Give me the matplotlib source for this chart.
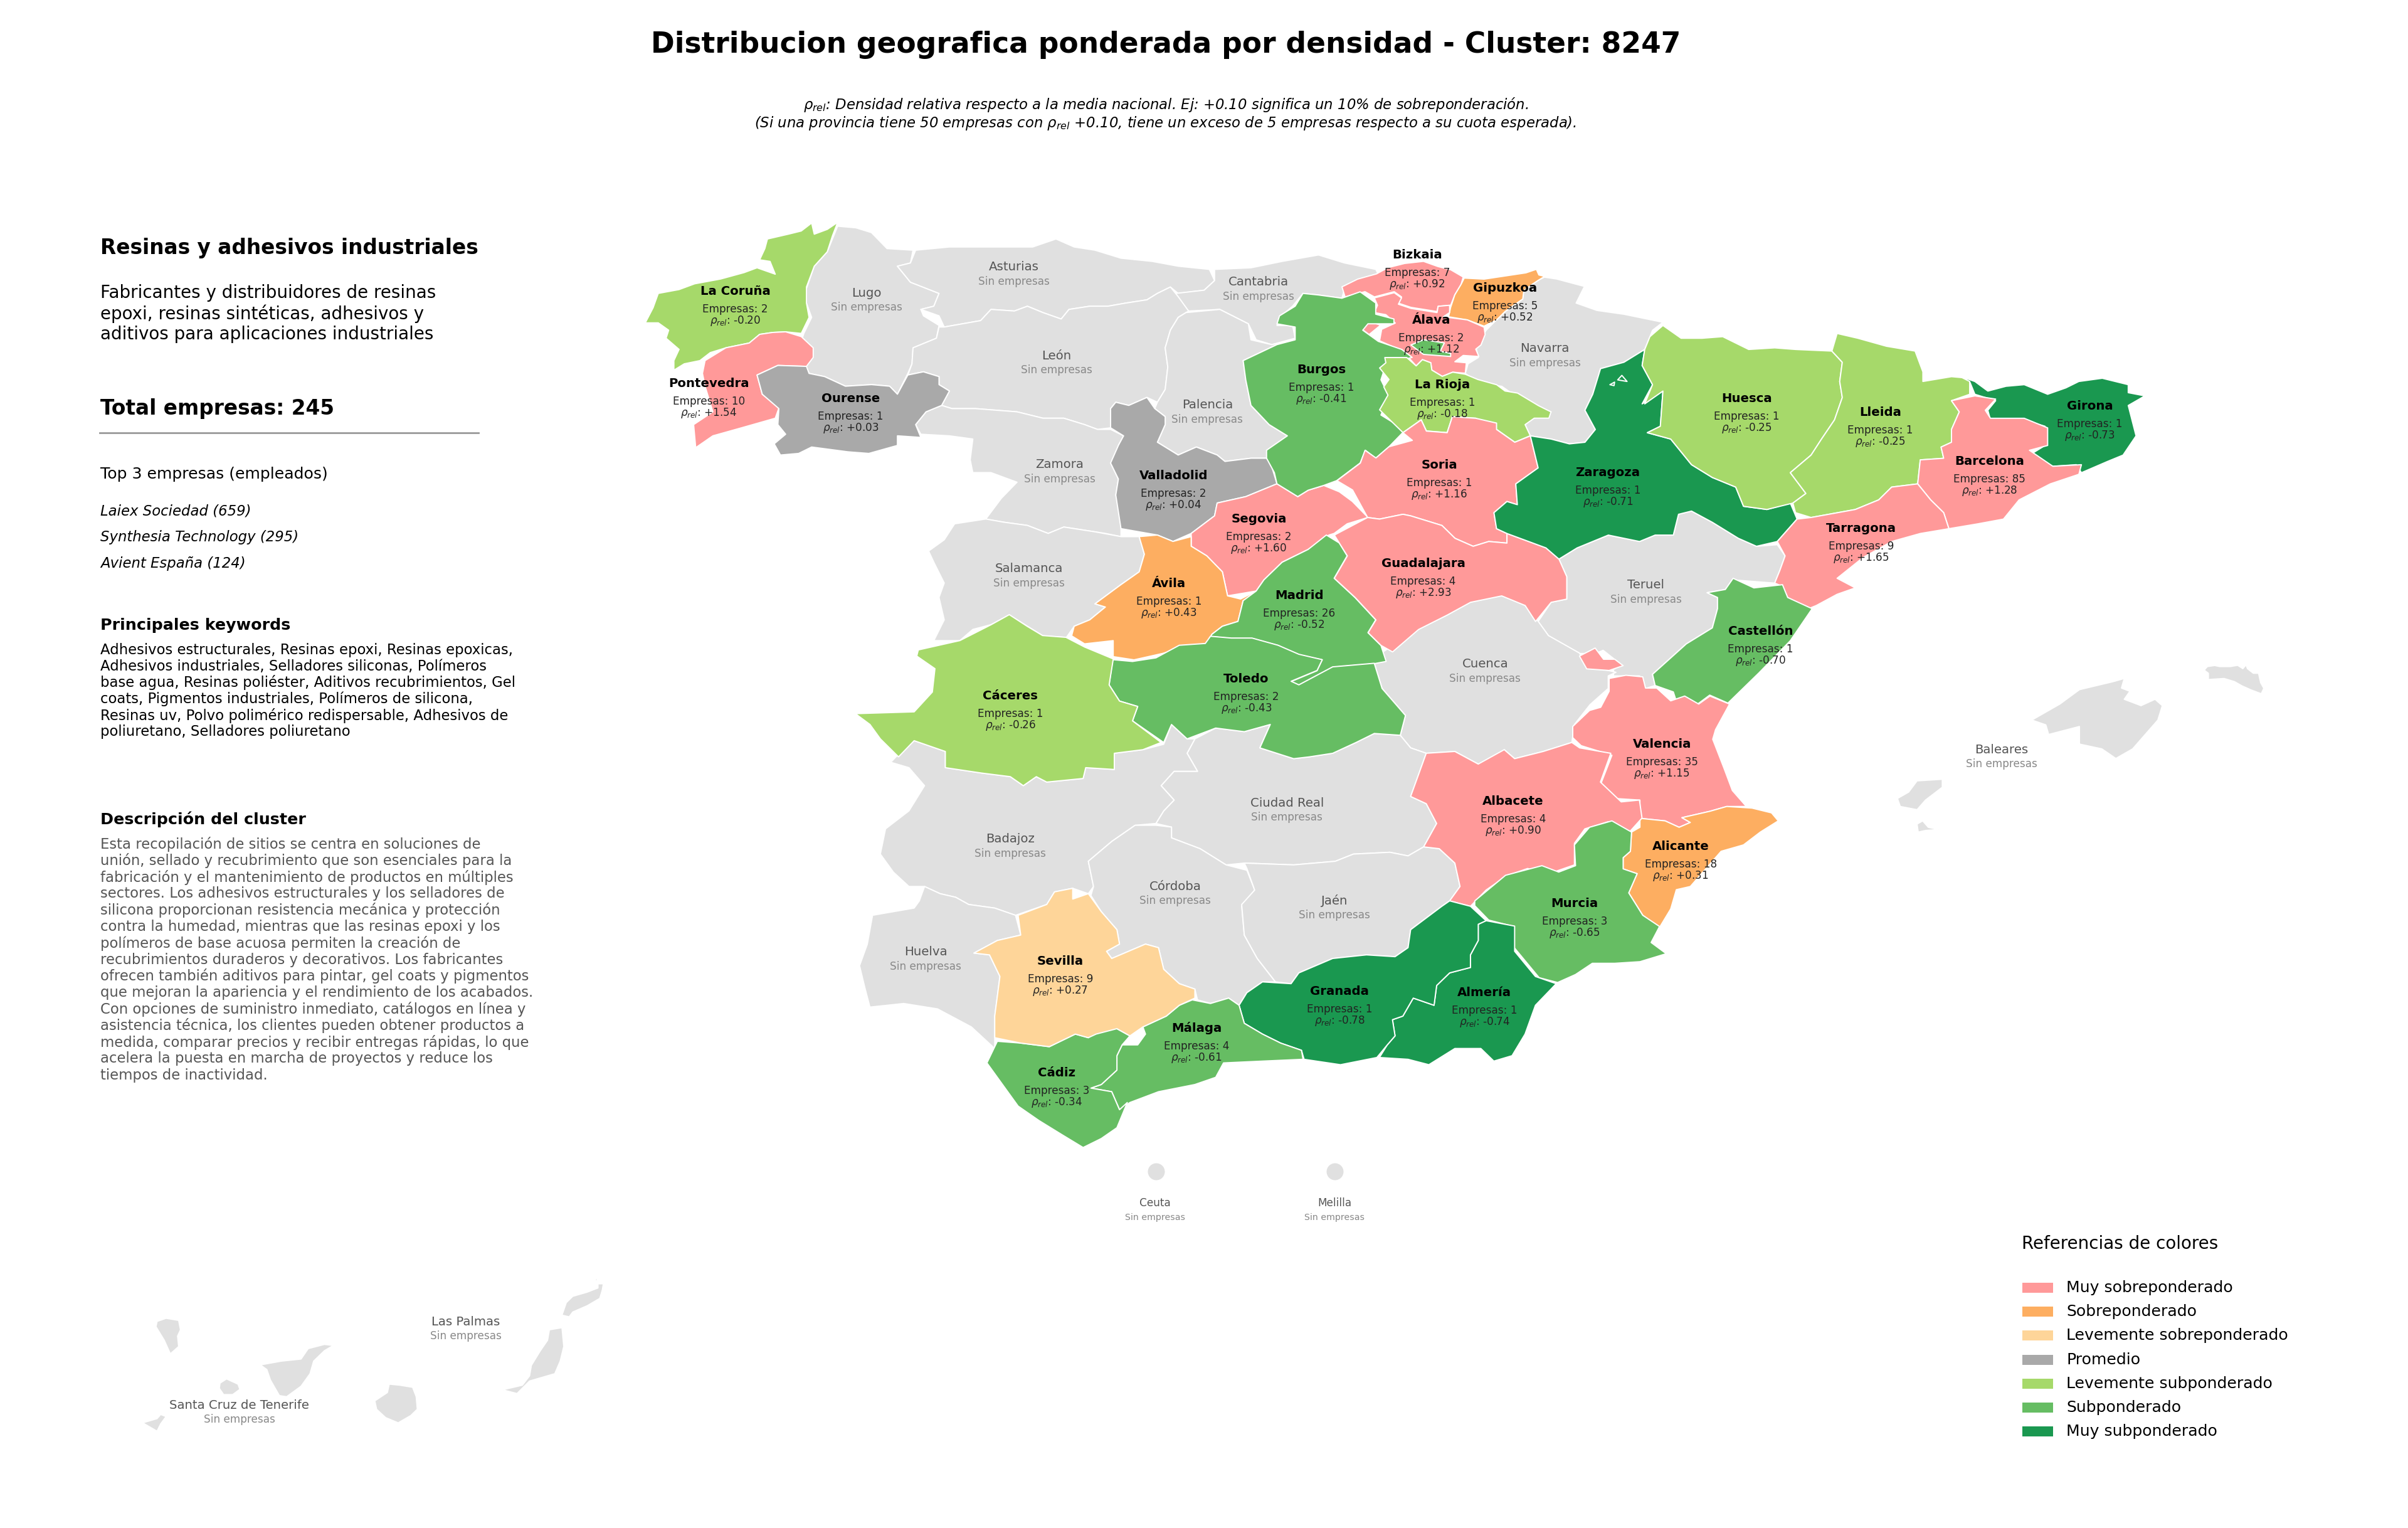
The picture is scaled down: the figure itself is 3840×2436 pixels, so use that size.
import matplotlib
matplotlib.use("Agg")
import matplotlib.pyplot as plt
from matplotlib.patches import Ellipse

# ---------- data ----------
PROVINCIAS = ["La Coruña","Pontevedra","Ourense","Burgos","Valladolid","Segovia","Ávila","Madrid","Cáceres","Toledo",
              "Bizkaia","Gipuzkoa","Álava","La Rioja","Soria","Guadalajara","Zaragoza","Huesca","Lleida","Girona",
              "Barcelona","Tarragona","Castellón","Valencia","Alicante","Albacete","Murcia","Almería","Granada","Málaga","Cádiz","Sevilla"]
EMPRESAS = [2,10,1,1,2,2,1,26,1,2,7,5,2,1,1,4,1,1,1,1,85,9,1,35,18,4,3,1,1,4,3,9]
RHO = [-0.20,1.54,0.03,-0.41,0.04,1.60,0.43,-0.52,-0.26,-0.43,0.92,0.52,1.12,-0.18,1.16,2.93,-0.71,-0.25,-0.25,-0.73,
       1.28,1.65,-0.70,1.15,0.31,0.90,-0.65,-0.74,-0.78,-0.61,-0.34,0.27]
SIN_EMPRESAS = ["Lugo","Asturias","Cantabria","León","Palencia","Zamora","Salamanca","Navarra","Teruel","Cuenca",
                "Ciudad Real","Badajoz","Córdoba","Jaén","Huelva","Baleares","Ceuta","Melilla","Las Palmas","Santa Cruz de Tenerife"]
CATEGORIAS = ["Muy sobreponderado","Sobreponderado","Levemente sobreponderado","Promedio",
              "Levemente subponderado","Subponderado","Muy subponderado"]
COLORES = ["#ff9999","#fdae61","#fed599","#a9a9a9","#a6d96a","#66bd63","#1a9850"]
LIMITES = [0.75,0.30,0.10,-0.10,-0.30,-0.70]
COLOR_SIN = "#e0e0e0"

TITULO = "Distribucion geografica ponderada por densidad - Cluster: 8247"
NOTA = ["$\\rho_{rel}$: Densidad relativa respecto a la media nacional. Ej: +0.10 significa un 10% de sobreponderación.",
        "(Si una provincia tiene 50 empresas con $\\rho_{rel}$ +0.10, tiene un exceso de 5 empresas respecto a su cuota esperada)."]
CLUSTER = "Resinas y adhesivos industriales"
RESUMEN = "Fabricantes y distribuidores de resinas\nepoxi, resinas sintéticas, adhesivos y\naditivos para aplicaciones industriales"
TOTAL = "Total empresas: 245"
TOP3 = ["Laiex Sociedad (659)","Synthesia Technology (295)","Avient España (124)"]
KEYWORDS = ["Adhesivos estructurales, Resinas epoxi, Resinas epoxicas,","Adhesivos industriales, Selladores siliconas, Polímeros",
            "base agua, Resinas poliéster, Aditivos recubrimientos, Gel","coats, Pigmentos industriales, Polímeros de silicona,",
            "Resinas uv, Polvo polimérico redispersable, Adhesivos de","poliuretano, Selladores poliuretano"]
DESCRIPCION = ["Esta recopilación de sitios se centra en soluciones de","unión, sellado y recubrimiento que son esenciales para la",
               "fabricación y el mantenimiento de productos en múltiples","sectores. Los adhesivos estructurales y los selladores de",
               "silicona proporcionan resistencia mecánica y protección","contra la humedad, mientras que las resinas epoxi y los",
               "polímeros de base acuosa permiten la creación de","recubrimientos duraderos y decorativos. Los fabricantes",
               "ofrecen también aditivos para pintar, gel coats y pigmentos","que mejoran la apariencia y el rendimiento de los acabados.",
               "Con opciones de suministro inmediato, catálogos en línea y","asistencia técnica, los clientes pueden obtener productos a",
               "medida, comparar precios y recibir entregas rápidas, lo que","acelera la puesta en marcha de proyectos y reduce los","tiempos de inactividad."]

# traced outlines: (frame, points); a frame is an offset and scale of the tracing sheet
FRAMES = {"A":(1000,330,1300/1568,800/1568),"B":(2200,450,1300/1568,800/1568),"C":(1350,1000,1300/1568,900/1568),
          "D":(2200,1000,1400/1568,800/1568),"E":(2100,370,1/3,1/3),"F":(150,1950,900/1568,1/3),
          "G":(3480,1040,1/3,1/3),"P":(0,0,1,1)}

OUTLINES = {
"Lugo":[("A",[(405,60),(440,65),(470,80),(500,130),(550,135),(545,175),(520,185),(545,235),(600,270),(590,310),(565,320),(570,340),(600,370),(595,410),(550,440),(548,490),(540,520),(520,585),(505,560),(470,555),(420,560),(380,530),(350,520),(345,500),(335,420),(340,395),(355,345),(345,300),(345,255),(360,185),(385,140),(395,100)])],
"Asturias":[("A",[(555,135),(620,125),(700,125),(780,125),(825,100),(860,125),(900,135),(950,160),(1010,170),(1060,185),(1120,195),(1130,230),(1110,260),(1060,270),(1045,250),(1020,270),(1000,290),(960,300),(925,310),(890,310),(850,320),(835,350),(800,330),(770,310),(745,325),(700,320),(680,355),(610,375),(600,340),(565,320),(590,310),(600,270),(545,235),(520,185),(545,175)])],
"Cantabria":[("A",[(1130,195),(1200,190),(1260,170),(1330,150),(1380,175),(1440,195),(1450,225),(1380,255),(1375,285),(1330,275),(1300,270),(1280,310),(1255,345),(1250,370),(1280,370),(1285,410),(1240,430),(1210,415),(1195,365),(1140,320),(1080,325),(1060,290),(1055,270),(1110,260),(1130,230)])],
"León":[("A",[(610,375),(680,355),(700,320),(745,325),(770,310),(800,330),(835,350),(850,320),(890,310),(925,310),(960,300),(1000,290),(1020,270),(1045,250),(1060,280),(1080,325),(1060,345),(1045,385),(1035,440),(1040,500),(1035,570),(1020,610),(1000,595),(965,620),(940,610),(930,630),(930,690),(905,695),(880,680),(840,660),(800,660),(750,640),(670,630),(625,630),(605,620),(620,575),(600,555),(600,530),(570,515),(540,525),(548,490),(550,440),(595,410),(600,375)])],
"Palencia":[("A",[(1075,330),(1140,320),(1195,365),(1200,415),(1240,430),(1285,415),(1250,430),(1185,480),(1190,540),(1200,620),(1235,680),(1270,715),(1235,760),(1235,785),(1200,785),(1150,795),(1135,775),(1095,750),(1060,775),(1020,735),(1035,680),(1035,655),(1015,630),(1020,610),(1035,570),(1040,500),(1035,440),(1045,385),(1060,345)])],
"Zamora":[("A",[(605,620),(625,630),(670,630),(750,640),(800,660),(840,660),(880,680),(905,695),(930,695),(955,715),(945,745),(945,790),(930,800),(945,850),(940,900),(950,970),(950,1030),(920,1020),(900,1015),(840,1000),(810,1020),(770,995),(725,985),(690,975),(720,910),(750,860),(700,830),(665,830),(660,790),(665,725),(620,715),(565,710),(555,680),(575,640)])],
"Salamanca":[("A",[(690,975),(725,985),(770,995),(810,1020),(840,1000),(900,1015),(950,1030),(985,1030),(995,1085),(985,1140),(950,1180),(900,1240),(920,1250),(890,1290),(860,1310),(845,1345),(800,1340),(770,1310),(735,1275),(700,1305),(665,1320),(640,1355),(590,1355),(610,1290),(600,1220),(610,1175),(590,1110),(580,1075),(610,1040),(630,990)])],
"Navarra":[("B",[(317,-16),(341,-10),(394,13),(378,65),(418,88),(470,100),(545,125),(525,150),(520,170),(510,210),(470,250),(425,270),(410,350),(395,400),(415,460),(395,500),(365,505),(330,490),(290,480),(280,445),(300,410),(330,405),(270,365),(235,325),(190,315),(165,285),(170,255),(190,235),(185,200),(205,150),(225,117),(241,92),(275,52),(277,25),(305,-6)])],
"Teruel":[("B",[(345,865),(380,830),(440,790),(500,810),(530,790),(565,790),(575,725),(600,715),(640,750),(690,800),(725,825),(765,820),(780,855),(770,900),(760,940),(680,930),(665,960),(630,970),(650,985),(650,1020),(640,1080),(590,1130),(525,1225),(530,1260),(510,1270),(500,1230),(450,1230),(450,1210),(465,1195),(430,1150),(415,1160),(385,1160),(325,1105),(305,1060),(330,1000),(360,990),(360,920)])],
"Cuenca":[("C",[(1030,70),(1100,5),(1155,-34),(1200,-70),(1260,-88),(1305,-61),(1330,-17),(1350,23),(1410,72),(1420,105),(1480,125),(1465,135),(1465,170),(1430,215),(1400,270),(1395,320),(1340,345),(1285,365),(1265,340),(1255,365),(1215,380),(1170,345),(1115,350),(1085,335),(1065,300),(1075,245),(1030,170),(1015,100)])],
"Ciudad Real":[("C",[(670,310),(710,280),(765,290),(815,270),(795,335),(860,365),(890,360),(935,350),(980,320),(1015,295),(1065,300),(1085,335),(1115,350),(1085,470),(1115,490),(1135,545),(1110,610),(1080,635),(1045,625),(975,630),(940,650),(860,660),(765,655),(730,660),(680,615),(625,585),(625,555),(595,545),(610,510),(630,480),(605,440),(630,400),(675,400),(655,350)])],
"Badajoz":[("C",[(95,360),(130,315),(190,345),(190,390),(260,405),(315,415),(340,440),(365,415),(385,430),(455,420),(460,390),(515,395),(515,350),(570,340),(610,325),(625,270),(655,310),(670,310),(655,350),(675,400),(630,400),(605,440),(630,480),(610,510),(595,545),(555,550),(510,595),(465,650),(475,720),(465,740),(435,725),(400,735),(385,770),(325,800),(285,780),(235,770),(210,750),(180,740),(150,720),(120,720),(90,680),(65,630),(75,560),(120,510),(150,440),(120,390),(85,375)])],
"Córdoba":[("C",[(595,550),(625,555),(625,585),(680,615),(730,660),(770,675),(785,730),(760,775),(765,855),(790,920),(825,985),(800,985),(770,1015),(755,1050),(735,1030),(700,1045),(675,1035),(670,1005),(640,990),(610,950),(600,890),(575,880),(510,920),(500,900),(525,880),(520,840),(490,790),(470,745),(475,720),(465,650),(510,595),(555,550)])],
"Jaén":[("C",[(765,655),(860,660),(940,650),(975,630),(1045,625),(1080,635),(1110,610),(1140,615),(1170,655),(1180,720),(1160,760),(1145,775),(1085,840),(1080,890),(1055,915),(1000,910),(935,920),(870,960),(855,990),(825,985),(790,920),(765,855),(760,770),(785,730),(770,670)])],
"Huelva":[("C",[(150,720),(180,740),(210,750),(235,770),(285,780),(325,800),(335,855),(290,870),(245,905),(275,910),(295,970),(285,1080),(285,1170),(240,1110),(175,1060),(110,1045),(45,1055),(35,1000),(25,940),(40,880),(50,800),(130,780),(140,760)])],
"Baleares":[("D",[(1165,290),(1215,240),(1250,195),(1310,170),(1330,160),(1325,190),(1340,200),(1330,225),(1360,245),(1385,225),(1398,245),(1390,290),(1365,340),(1345,380),(1315,410),(1290,380),(1250,365),(1250,310),(1195,335),(1190,305)]),
            ("D",[(925,535),(945,515),(960,480),(1005,475),(1005,500),(975,540),(960,570),(930,560)]),
            ("D",[(960,615),(970,605),(980,625),(998,632),(975,635),(962,640)]),
            ("G",[(105,85),(120,68),(155,63),(180,68),(230,68),(265,62),(290,78),(305,60),(312,78),(340,100),(365,100),(375,145),(390,172),(378,198),(330,180),(285,160),(250,140),(200,125),(125,130),(125,100)])],
"Santa Cruz de Tenerife":[("F",[(175,470),(200,455),(235,465),(240,510),(232,540),(235,590),(212,625),(195,560),(172,495)]),
            ("F",[(462,678),(520,660),(575,650),(595,600),(640,580),(665,585),(640,610),(610,660),(600,720),(575,780),(535,830),(515,825),(490,750),(480,700)]),
            ("F",[(350,765),(368,745),(400,770),(405,795),(385,820),(360,820),(348,790)]),
            ("F",[(135,955),(175,935),(185,915),(200,925),(185,960),(175,995),(150,970)])],
"Las Palmas":[("F",[(820,770),(850,775),(885,785),(895,830),(898,890),(880,920),(845,955),(810,930),(785,890),(780,850),(815,810)]),
            ("F",[(1265,510),(1300,500),(1305,590),(1295,660),(1280,720),(1210,755),(1175,815),(1135,797),(1190,775),(1210,730),(1215,680),(1240,610),(1260,560)]),
            ("F",[(1300,440),(1312,380),(1330,350),(1370,330),(1400,310),(1400,290),(1415,290),(1412,320),(1405,360),(1370,395),(1330,425),(1320,448)]),
            ("F",[(1390,275),(1398,260),(1398,275)])],
"La Coruña":[("A",[(405,48),(395,90),(385,140),(360,185),(345,250),(345,300),(350,345),(335,395),(305,390),(280,392),(255,398),(235,425),(190,440),(160,455),(140,480),(110,490),(90,510),(90,480),(100,445),(75,410),(80,385),(60,362),(35,362),(50,315),(60,270),(100,258),(130,240),(180,225),(225,205),(250,190),(285,210),(275,170),(255,165),(265,130),(270,100),(310,85),(335,75),(355,50),(360,85),(385,70)])],
"Pontevedra":[("A",[(255,398),(280,392),(305,390),(335,405),(358,440),(358,470),(345,498),(290,495),(250,525),(260,585),(292,628),(285,660),(220,690),(165,715),(132,752),(128,680),(165,640),(150,560),(145,520),(150,480),(190,440),(235,425)])],
"Ourense":[("A",[(250,525),(290,495),(345,498),(350,520),(380,530),(420,560),(470,555),(505,560),(520,585),(540,525),(570,515),(600,530),(600,555),(620,575),(605,620),(575,640),(555,680),(565,720),(520,715),(520,745),(465,770),(425,765),(355,750),(330,770),(295,775),(283,740),(305,710),(290,680),(292,630),(260,585)])],
"Valladolid":[("A",[(930,630),(940,610),(965,620),(1000,595),(1015,630),(1035,655),(1035,680),(1020,735),(1060,775),(1095,750),(1135,775),(1150,795),(1200,785),(1235,785),(1250,865),(1190,905),(1135,925),(1130,965),(1085,1020),(1050,1045),(1020,1025),(950,1005),(940,900),(945,850),(930,800),(945,745),(955,715),(930,690)])],
"Segovia":[("A",[(1250,865),(1290,905),(1310,885),(1340,870),(1370,890),(1395,920),(1425,970),(1385,990),(1360,1020),(1350,1025),(1310,1070),(1260,1110),(1225,1165),(1210,1200),(1155,1215),(1145,1140),(1115,1090),(1085,1060),(1085,1020),(1130,965),(1135,925),(1190,905)])],
"Ávila":[("A",[(985,1030),(1020,1025),(1050,1045),(1085,1030),(1085,1060),(1115,1090),(1145,1140),(1155,1215),(1180,1225),(1210,1200),(1205,1225),(1185,1230),(1175,1295),(1145,1310),(1125,1335),(1115,1375),(1060,1380),(1030,1395),(975,1415),(935,1405),(935,1355),(880,1365),(855,1340),(860,1310),(890,1290),(920,1250),(900,1240),(950,1180),(985,1140),(995,1085)])],
"Madrid":[("A",[(1345,1025),(1370,1050),(1385,1090),(1360,1160),(1400,1220),(1440,1290),(1425,1330),(1450,1370),(1460,1420),(1437,1427),(1357,1438),(1292,1494),(1277,1483),(1327,1449),(1337,1415),(1292,1399),(1252,1370),(1202,1348),(1162,1348),(1122,1342),(1112,1368),(1125,1335),(1145,1310),(1175,1295),(1185,1230),(1210,1200),(1225,1165),(1260,1110),(1310,1070)])],
"Toledo":[("C",[(512,90),(550,95),(595,85),(640,50),(690,45),(700,25),(740,30),(780,30),(830,50),(870,75),(915,90),(905,120),(855,150),(870,160),(935,110),(1015,100),(1030,170),(1075,245),(1065,300),(1015,295),(980,320),(935,350),(890,360),(860,365),(795,335),(815,270),(765,290),(710,280),(655,310),(625,270),(610,320),(550,260),(560,220),(525,205),(505,160)])],
"Cáceres":[("C",[(138,63),(218,37),(278,-7),(313,-35),(347,-3),(377,23),(422,28),(458,55),(513,88),(505,160),(525,205),(560,220),(550,260),(605,320),(570,340),(515,350),(515,395),(460,390),(455,420),(385,430),(365,415),(340,440),(315,415),(260,405),(190,390),(190,345),(130,315),(100,360),(65,310),(45,270),(17,240),(130,235),(165,180),(170,115),(135,80)])],
"Bizkaia":[("E",[(120,262),(195,225),(285,200),(340,170),(420,150),(510,140),(580,165),(640,180),(700,215),(690,250),(660,300),(640,350),(580,355),(575,380),(450,360),(390,340),(405,310),(370,285),(275,310),(230,285),(135,310)])],
"Gipuzkoa":[("E",[(705,220),(800,225),(900,210),(1000,195),(1050,178),(1062,205),(1090,212),(1060,230),(1030,250),(990,280),(985,320),(900,380),(860,420),(800,450),(720,420),(630,405),(640,360),(660,300),(690,250)])],
"Álava":[("E",[(275,315),(370,290),(405,315),(390,345),(450,365),(575,385),(580,355),(635,350),(635,385),(605,405),(720,420),(800,455),(805,490),(785,540),(760,560),(775,595),(700,590),(660,620),(715,625),(710,675),(650,670),(600,690),(550,660),(545,625),(505,610),(475,640),(430,590),(380,555),(300,520),(310,465),(375,435),(330,395),(275,385),(290,350)]),
         ("E",[(210,460),(240,425),(305,445),(250,490)])],
"Burgos":[("A",[(1330,275),(1375,285),(1410,265),(1440,300),(1440,335),(1475,350),(1475,365),(1425,365),(1415,385),(1445,420),(1490,445),(1510,470),(1460,490),(1450,540),(1465,590),(1450,650),(1490,690),(1495,700),(1465,750),(1440,785),(1420,760),(1410,800),(1365,855),(1340,870),(1310,885),(1290,905),(1250,865),(1245,830),(1230,785),(1230,760),(1270,715),(1235,680),(1200,620),(1190,540),(1185,480),(1250,430),(1285,415),(1285,375),(1250,365),(1255,340),(1285,310),(1300,270)]),
          ("E",[(450,540),(510,515),(610,530),(590,570),(640,580),(640,595),(510,585)])],
"La Rioja":[("E",[(325,600),(430,600),(475,640),(505,610),(545,625),(550,660),(600,690),(650,670),(710,680),(770,705),(860,730),(900,760),(960,770),(1060,830),(1120,860),(1110,890),(1040,890),(996,921),(1021,974),(947,1005),(860,944),(760,890),(648,883),(623,959),(524,951),(499,898),(412,959),(300,850),(340,780),(320,740),(345,705),(300,650),(330,625)])],
"Soria":[("B",[(63,494),(45,470),(80,430),(90,465),(130,470),(140,420),(185,425),(225,440),(225,460),(260,500),(290,480),(305,580),(262,630),(265,695),(245,685),(220,720),(225,770),(245,785),(245,815),(210,810),(180,825),(145,800),(120,760),(60,730),(45,725),(0,740),(-23,735),(-52,649),(-82,620),(-37,565),(-28,525),(-7,549),(18,514)])],
"Guadalajara":[("B",[(-23,735),(0,740),(45,725),(60,730),(120,760),(145,800),(180,825),(210,810),(245,815),(245,785),(320,830),(345,865),(360,920),(360,990),(330,1000),(300,1060),(280,1010),(235,980),(175,1000),(130,1040),(75,1085),(25,1155),(3,1135),(-22,1095),(-7,1055),(-47,985),(-87,925),(-62,855),(-87,790)])],
"Zaragoza":[("B",[(510,210),(505,260),(525,320),(505,380),(545,340),(540,450),(515,470),(560,490),(600,570),(640,610),(685,640),(700,700),(745,710),(790,690),(803,740),(765,810),(725,825),(690,800),(640,750),(600,715),(575,725),(565,790),(530,790),(500,810),(440,790),(380,830),(345,865),(320,830),(245,785),(225,770),(220,720),(245,685),(265,695),(262,630),(305,580),(290,480),(330,490),(365,505),(395,500),(415,460),(395,400),(410,350),(425,270),(470,250)]),
            ("B",[(458,305),(466,291),(476,310)]),("B",[(443,320),(452,312),(451,323)])],
"Huesca":[("B",[(545,135),(580,175),(620,175),(660,170),(710,210),(760,205),(800,210),(870,215),(890,250),(885,310),(890,360),(875,430),(850,490),(830,540),(790,595),(820,660),(795,690),(745,710),(700,700),(685,640),(640,610),(600,570),(560,490),(515,470),(540,450),(545,340),(510,380),(525,320),(505,260),(510,210),(520,170)])],
"Lleida":[("B",[(880,160),(920,175),(975,200),(1030,215),(1045,280),(1045,310),(1100,295),(1135,300),(1135,350),(1100,370),(1115,405),(1100,460),(1100,500),(1080,515),(1085,550),(1040,555),(1035,630),(985,640),(960,680),(915,710),(830,735),(800,720),(795,690),(820,660),(790,595),(830,540),(850,490),(875,430),(890,360),(885,310),(890,250),(870,215)])],
"Girona":[("B",[(1113,292),(1145,310),(1170,340),(1205,325),(1240,320),(1285,350),(1320,330),(1345,310),(1390,300),(1440,320),(1440,345),(1472,355),(1440,385),(1455,480),(1430,540),(1400,560),(1350,595),(1340,570),(1295,575),(1250,540),(1280,510),(1280,450),(1240,430),(1175,430),(1170,400),(1185,370),(1145,350),(1135,310)])],
"Barcelona":[("B",[(1100,370),(1145,355),(1185,365),(1165,400),(1175,425),(1240,425),(1285,455),(1285,510),(1250,525),(1295,575),(1350,570),(1345,600),(1290,630),(1230,680),(1200,740),(1150,755),(1095,770),(1085,720),(1060,680),(1035,630),(1040,555),(1085,550),(1080,515),(1100,500),(1100,460),(1115,405)])],
"Tarragona":[("B",[(985,640),(1035,630),(1060,680),(1085,720),(1095,770),(1040,785),(985,810),(930,860),(880,925),(915,955),(880,975),(840,1010),(825,1020),(785,985),(775,950),(760,940),(770,900),(780,855),(765,810),(803,740),(830,735),(915,710),(960,680)])],
"Castellón":[("B",[(680,925),(720,955),(775,945),(785,985),(832,1020),(790,1120),(730,1220),(670,1315),(635,1290),(610,1320),(570,1305),(565,1280),(530,1260),(525,1225),(590,1130),(640,1080),(650,1020),(650,985),(630,970),(665,960)])],
"Valencia":[("D",[(410,160),(440,150),(470,155),(475,190),(495,190),(520,230),(545,215),(570,240),(590,215),(625,240),(600,320),(595,350),(615,440),(630,510),(655,560),(620,560),(590,575),(540,595),(555,610),(535,625),(510,605),(465,597),(465,540),(420,535),(395,490),(415,400),(360,370),(345,345),(345,310),(375,260),(395,250),(410,200)]),
            ("D",[(385,65),(400,100),(420,100),(435,120),(410,135),(370,130),(357,90)])],
"Alicante":[("D",[(465,597),(510,605),(535,625),(555,610),(540,595),(590,575),(620,560),(665,565),(700,580),(712,605),(680,640),(650,680),(610,700),(555,810),(530,820),(520,880),(500,938),(470,900),(445,830),(460,770),(435,755),(435,720),(448,700),(450,640),(465,625)])],
"Albacete":[("C",[(1115,350),(1170,345),(1215,380),(1265,340),(1285,365),(1340,345),(1395,320),(1410,335),(1470,350),(1450,430),(1490,485),(1525,480),(1530,530),(1505,570),(1465,540),(1420,560),(1400,600),(1400,660),(1350,685),(1310,670),(1270,690),(1230,730),(1200,775),(1160,760),(1180,720),(1170,655),(1140,615),(1110,610),(1135,545),(1115,490),(1085,470)])],
"Murcia":[("D",[(170,855),(225,775),(290,745),(320,765),(350,745),(348,680),(375,625),(415,605),(450,640),(448,700),(435,720),(435,755),(460,770),(445,830),(470,900),(500,935),(485,985),(512,1020),(465,1045),(420,1050),(380,1050),(350,1085),(318,1110),(285,1095),(240,1000),(240,935),(195,915),(170,870)])],
"Almería":[("C",[(1230,815),(1285,830),(1285,900),(1325,970),(1365,990),(1325,1050),(1305,1130),(1280,1190),(1245,1205),(1220,1170),(1170,1170),(1120,1215),(1080,1200),(1025,1195),(1040,1160),(1055,1135),(1050,1090),(1070,1080),(1090,1030),(1130,1050),(1135,995),(1160,960),(1200,945),(1200,910),(1215,870),(1215,825)])],
"Granada":[("C",[(870,960),(935,920),(1000,910),(1055,915),(1080,890),(1085,840),(1145,775),(1160,760),(1200,775),(1230,815),(1215,825),(1215,870),(1200,910),(1200,945),(1160,960),(1135,995),(1130,1050),(1090,1030),(1070,1080),(1050,1090),(1055,1135),(1040,1160),(1020,1195),(950,1215),(880,1200),(875,1175),(835,1155),(800,1130),(765,1100),(755,1050),(770,1015),(800,985),(855,990)])],
"Málaga":[("C",[(570,1110),(615,1080),(640,1050),(665,1035),(700,1045),(735,1030),(755,1050),(765,1100),(800,1130),(835,1155),(875,1175),(878,1200),(800,1205),(725,1210),(710,1250),(670,1270),(600,1290),(545,1320),(525,1340),(510,1290),(470,1280),(490,1270),(520,1230),(520,1190),(530,1160),(560,1160),(575,1130)])],
"Cádiz":[("C",[(290,1150),(335,1155),(390,1165),(440,1130),(465,1140),(490,1110),(520,1115),(545,1135),(530,1160),(520,1190),(520,1230),(490,1270),(470,1280),(510,1290),(525,1340),(540,1320),(520,1390),(490,1420),(455,1445),(415,1410),(370,1370),(330,1330),(305,1280),(270,1210)])],
"Sevilla":[("C",[(400,735),(435,725),(435,755),(465,740),(490,790),(520,840),(525,880),(500,900),(510,920),(575,880),(600,890),(610,950),(640,990),(670,1005),(670,1030),(640,1050),(615,1080),(570,1110),(545,1135),(520,1115),(480,1130),(465,1140),(440,1130),(390,1165),(335,1155),(285,1140),(285,1080),(295,970),(275,910),(245,905),(290,870),(335,855),(330,800),(385,770)])],
}
CIRCULOS = {"Ceuta":(1844,1868),"Melilla":(2129,1868)}

ETIQUETAS = {
"La Coruña":("A",208,263),"Lugo":("A",461,269),"Asturias":("A",744,188),"Cantabria":("A",1215,235),"Pontevedra":("A",157,551),
"Ourense":("A",430,598),"León":("A",826,465),"Burgos":("A",1335,508),"Palencia":("A",1116,619),"Zamora":("A",832,805),
"Valladolid":("A",1051,839),"Segovia":("A",1215,975),"Salamanca":("A",773,1130),"Ávila":("A",1042,1176),"Madrid":("A",1293,1215),
"Cáceres":("C",315,190),"Toledo":("C",769,144),"Navarra":("B",318,207),"Huesca":("B",706,364),"Lleida":("B",963,406),
"Girona":("B",1366,387),"Barcelona":("B",1173,560),"Zaragoza":("B",439,595),"Soria":("B",115,571),"La Rioja":("B",121,321),
"Tarragona":("B",926,770),"Guadalajara":("B",84,879),"Teruel":("B",512,946),"Cuenca":("B",203,1193),"Castellón":("B",733,1090),
"Valencia":("B",543,1443),"Baleares":("B",1196,1461),"Bizkaia":("E",480,108),"Gipuzkoa":("E",900,268),"Álava":("E",548,420),
"Badajoz":("C",315,588),"Ciudad Real":("C",847,488),"Córdoba":("C",632,720),"Jaén":("C",938,760),"Huelva":("C",152,902),
"Sevilla":("C",411,928),"Málaga":("C",673,1114),"Cádiz":("C",404,1238),"Granada":("C",948,1012),"Almería":("C",1227,1015),
"Albacete":("C",1282,484),"Murcia":("D",348,864),"Alicante":("D",538,685),"Ceuta":("P",1842,1918),"Melilla":("P",2128,1918),
"Santa Cruz de Tenerife":("F",404,870),"Las Palmas":("F",1033,472),
}
PEQUENAS = ["Ceuta", "Melilla"]

def to_px(frame, pts):
    ox, oy, sx, sy = FRAMES[frame]
    return [ox + p[0]*sx for p in pts], [oy + p[1]*sy for p in pts]

def categoria(r):
    for i, lim in enumerate(LIMITES):
        if r >= lim:
            return i
    return len(LIMITES)

W, H, DPI = 3840, 2436, 200
fig = plt.figure(figsize=(W/DPI, H/DPI), dpi=DPI, facecolor="white")
ax = fig.add_axes([0, 0, 1, 1])
ax.set_xlim(0, W); ax.set_ylim(H, 0); ax.axis("off")

color_de = {n: COLORES[categoria(r)] for n, r in zip(PROVINCIAS, RHO)}
datos = dict(zip(PROVINCIAS, zip(EMPRESAS, RHO)))

for name, parts in OUTLINES.items():
    for frame, pts in parts:
        xs, ys = to_px(frame, pts)
        ax.fill(xs, ys, facecolor=color_de.get(name, COLOR_SIN), edgecolor="white", linewidth=0.7, zorder=2, joinstyle="round")
for name, (cx, cy) in CIRCULOS.items():
    ax.add_patch(Ellipse((cx, cy), 27, 27, facecolor=COLOR_SIN, edgecolor="none", zorder=2))

for name, (frame, zx, zy) in ETIQUETAS.items():
    (x,), (y,) = to_px(frame, [(zx, zy)])
    if name in datos:
        n, r = datos[name]
        ax.text(x, y, name, ha="center", va="center", fontsize=7.1, fontweight="bold", color="black", zorder=5)
        ax.text(x, y+28.5, f"Empresas: {n}", ha="center", va="center", fontsize=6.1, color="#222222", zorder=5)
        ax.text(x, y+47, f"$\\rho_{{rel}}$: {r:+.2f}", ha="center", va="center", fontsize=6.1, color="#222222", zorder=5)
    else:
        small = name in PEQUENAS
        ax.text(x, y, name, ha="center", va="center", fontsize=6.1 if small else 7.1, color="#555555", zorder=5)
        ax.text(x, y+23, "Sin empresas", ha="center", va="center", fontsize=5.1 if small else 6.1, color="#888888", zorder=5)

ax.text(1859, 72, TITULO, ha="center", va="center", fontsize=16.4, fontweight="bold")
for y, t in zip([167, 197], NOTA):
    ax.text(1859, y, t, ha="center", va="center", fontsize=8.2, style="italic")

L = 160
ax.text(L, 396, CLUSTER, va="center", fontsize=11.8, fontweight="bold")
ax.text(L, 500, RESUMEN, va="center", fontsize=10, linespacing=1.2)
ax.text(L, 651, TOTAL, va="center", fontsize=11.8, fontweight="bold")
ax.plot([159, 763], [690, 690], color="#999999", lw=1.0)
ax.text(L, 756, "Top 3 empresas (empleados)", va="center", fontsize=9.05)
for y, t in zip([815, 857, 899], TOP3):
    ax.text(L, y, t, va="center", fontsize=8.2, style="italic")
ax.text(L, 997, "Principales keywords", va="center", fontsize=9.15, fontweight="bold")
for i, t in enumerate(KEYWORDS):
    ax.text(L, 1036 + i*26.2, t, va="center", fontsize=8.2)
ax.text(L, 1306, "Descripción del cluster", va="center", fontsize=9.15, fontweight="bold")
for i, t in enumerate(DESCRIPCION):
    ax.text(L, 1346 + i*26.3, t, va="center", fontsize=8.2, color="#555555")

# legend
ax.text(3224, 1983, "Referencias de colores", va="center", fontsize=10)
for i, (c, t) in enumerate(zip(COLORES, CATEGORIAS)):
    y = 2053 + i*38.2
    ax.fill([3225, 3274, 3274, 3225], [y-8, y-8, y+8, y+8], color=c, lw=0)
    ax.text(3295, y, t, va="center", fontsize=9.05)

fig.savefig("out.png", dpi=DPI, facecolor="white")
